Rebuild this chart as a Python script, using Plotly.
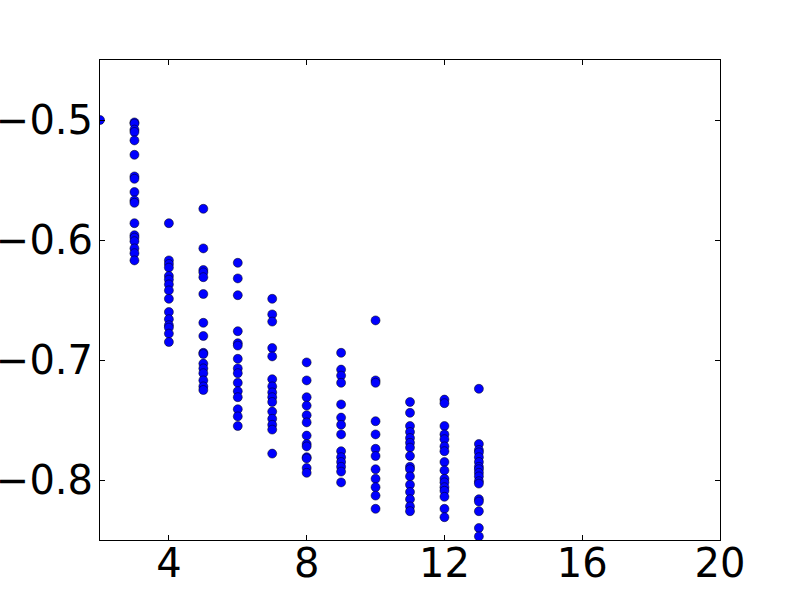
import plotly.graph_objects as go

# x positions (integers) and the y values
x2 = [-0.500]
x3 = [-0.502, -0.503, -0.508, -0.510, -0.517, -0.529, -0.547, -0.549, -0.560,
      -0.567, -0.569, -0.586, -0.596, -0.598, -0.601, -0.607, -0.611, -0.617]
x4 = [-0.586, -0.617, -0.620, -0.623, -0.630, -0.633, -0.637, -0.642, -0.649,
      -0.660, -0.666, -0.671, -0.673, -0.678, -0.685]
x5 = [-0.574, -0.607, -0.625, -0.627, -0.631, -0.645, -0.669, -0.680, -0.694,
      -0.695, -0.703, -0.707, -0.711, -0.717, -0.722, -0.725]
x6 = [-0.619, -0.632, -0.646, -0.676, -0.686, -0.688, -0.699, -0.707, -0.711,
      -0.719, -0.726, -0.731, -0.741, -0.747, -0.755]
x7 = [-0.649, -0.662, -0.668, -0.690, -0.697, -0.716, -0.722, -0.727, -0.731,
      -0.735, -0.743, -0.749, -0.754, -0.758, -0.778]
x8 = [-0.702, -0.717, -0.731, -0.738, -0.746, -0.752, -0.763, -0.770, -0.772,
      -0.781, -0.782, -0.790, -0.794]
x9 = [-0.694, -0.708, -0.713, -0.719, -0.737, -0.748, -0.754, -0.762, -0.776,
      -0.781, -0.785, -0.789, -0.793, -0.802]
x10 = [-0.667, -0.717, -0.719, -0.751, -0.762, -0.774, -0.780, -0.791, -0.799,
       -0.806, -0.813, -0.824]
x11 = [-0.735, -0.744, -0.755, -0.760, -0.765, -0.769, -0.773, -0.780, -0.789,
       -0.791, -0.797, -0.804, -0.810, -0.816, -0.822, -0.826]
x12 = [-0.733, -0.736, -0.755, -0.762, -0.766, -0.772, -0.776, -0.785, -0.792,
       -0.799, -0.802, -0.806, -0.809, -0.814, -0.824, -0.831]
x13 = [-0.724, -0.770, -0.775, -0.777, -0.781, -0.785, -0.789, -0.791, -0.794,
       -0.797, -0.801, -0.803, -0.816, -0.818, -0.826, -0.840, -0.847]

columns = {2: x2, 3: x3, 4: x4, 5: x5, 6: x6, 7: x7, 8: x8, 9: x9,
           10: x10, 11: x11, 12: x12, 13: x13}

xs, ys = [], []
for k, vals in columns.items():
    xs += [k] * len(vals)
    ys += vals

x_ticks = [4, 8, 12, 16, 20]
y_ticks = [-0.5, -0.6, -0.7, -0.8]
y_labels = ["\u22120.5", "\u22120.6", "\u22120.7", "\u22120.8"]

fig = go.Figure(go.Scatter(
    x=xs, y=ys, mode="markers",
    marker=dict(color="#0000ff", size=9, line=dict(color="black", width=0.5)),
    cliponaxis=True,
))

axis_style = dict(
    showgrid=False, zeroline=False, showline=True, linecolor="black", linewidth=1,
    mirror="ticks", ticks="inside", ticklen=5, tickwidth=1, tickcolor="black",
    automargin=False,
    tickfont=dict(family="DejaVu Sans", size=40, color="black"),
)

fig.update_xaxes(range=[2, 20], tickvals=x_ticks, ticklabelstandoff=-12, **axis_style)
fig.update_yaxes(range=[-0.85, -0.45], tickvals=y_ticks, ticktext=y_labels,
                 ticklabelstandoff=-2, **axis_style)

fig.update_layout(
    width=800, height=600,
    margin=dict(l=100, r=80, t=60, b=60),
    paper_bgcolor="white", plot_bgcolor="white",
    showlegend=False,
)

# drop the browser's default body margin so the figure sits at the page corner
fig.write_html("out.html", config={"displayModeBar": False},
               post_script="document.body.style.margin = '0';")
